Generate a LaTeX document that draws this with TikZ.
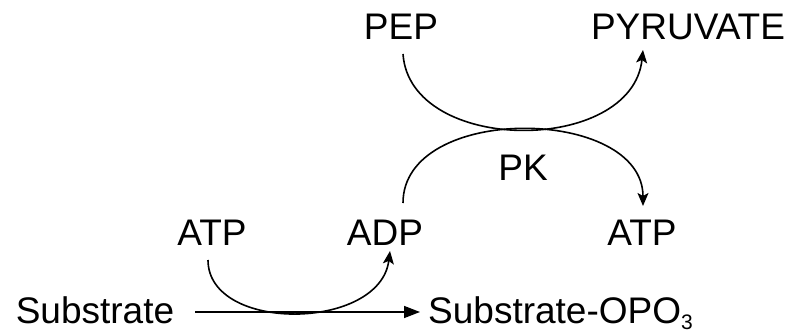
\documentclass[tikz,border=0pt]{standalone}
\usepackage{fontspec}
\setmainfont{Liberation Sans}
\usetikzlibrary{arrows.meta}
\begin{document}
\begin{tikzpicture}[x=1pt,y=-1pt,
  lbl/.style={inner sep=0pt,anchor=base,font=\fontsize{37}{44}\selectfont},
  curve/.style={line width=1.6pt,-{Stealth[length=13pt,width=11pt,inset=3pt]}},
  straight/.style={line width=1.6pt,-{Triangle[length=16pt,width=12pt]}}]
\useasboundingbox (0,0) rectangle (806,334);

% species
\node[lbl] (pep)  at (401,40)  {PEP};
\node[lbl] (pyr)  at (688,40)  {PYRUVATE};
\node[lbl] (pk)   at (523,180) {PK};
\node[lbl] (atpL) at (212,245) {ATP};
\node[lbl] (adp)  at (385,245) {ADP};
\node[lbl] (atpR) at (642,245) {ATP};
\node[lbl] (sub)  at (95,323)  {Substrate};
\node[lbl,anchor=base west] (subp) at (428,323)
  {Substrate-OPO\raisebox{-6pt}{\fontsize{21}{25}\selectfont 3}};

% PEP -> PYRUVATE
\draw[curve] ([shift={(2,14)}]pep.base)
  .. controls +(7,101) and +(-11,105) .. ([shift={(-45,10)}]pyr.base);
% ADP -> ATP
\draw[curve] ([shift={(18,-42)}]adp.base)
  .. controls +(0,-100) and +(0,-100) .. ([shift={(1,-39)}]atpR.base);
% ATP -> ADP
\draw[curve] ([shift={(-4,15)}]atpL.base)
  .. controls +(0,73) and +(-10,80) .. ([shift={(5,6)}]adp.base);
% Substrate -> Substrate-OPO3
\draw[straight] ([shift={(100,-11)}]sub.base) -- ([shift={(-8,-11)}]subp.base west);
\end{tikzpicture}
\end{document}
